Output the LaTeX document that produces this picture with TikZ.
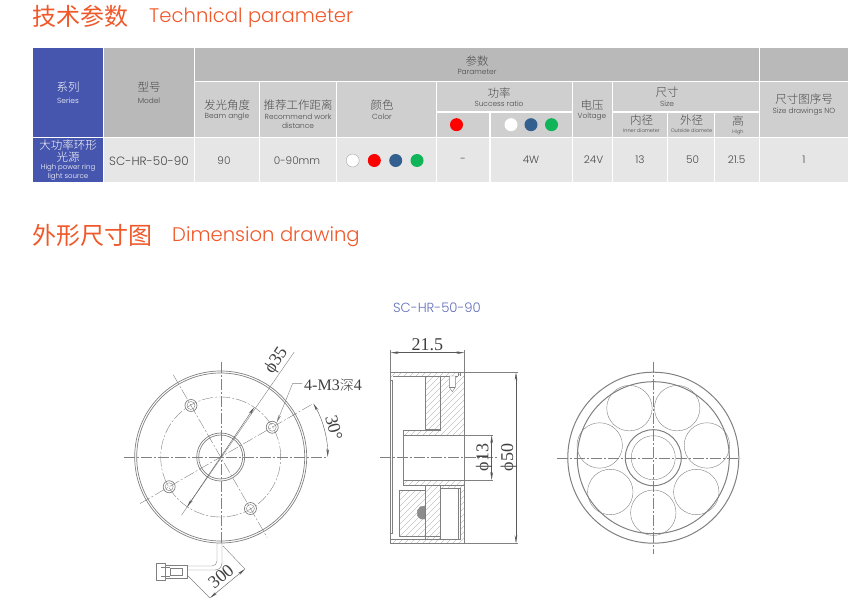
\documentclass[tikz,border=0pt]{standalone}
\usepackage{fontspec}
\usepackage{tikz}
\usetikzlibrary{arrows.meta}
\setmainfont{Poppins Light}
\newfontfamily\cjk{Noto Sans CJK SC Light}
\newfontfamily\cjkreg{Noto Sans CJK SC}
\newfontfamily\dimfont{Liberation Serif}
\definecolor{titleorange}{HTML}{F0582A}
\definecolor{seriesblue}{HTML}{4655AD}
\definecolor{headdark}{HTML}{B9B9B9}
\definecolor{headmid}{HTML}{CFCFCF}
\definecolor{rowlight}{HTML}{E6E6E6}
\definecolor{celltext}{HTML}{4A4A4A}
\definecolor{drawline}{HTML}{808080}
\definecolor{dotblue}{HTML}{33608F}
\definecolor{dotgreen}{HTML}{10B459}
\tikzset{
  zh/.style={font=\cjk\fontsize{11.5}{11.5}\selectfont, text=celltext, inner sep=0pt},
  en/.style={font=\fontsize{7.4}{9.2}\selectfont, text=celltext, inner sep=0pt, align=center},
  entiny/.style={font=\fontsize{5}{6}\selectfont, text=celltext, inner sep=0pt},
  val/.style={font=\fontsize{10.5}{11}\selectfont, text=celltext, inner sep=0pt},
  titlezh/.style={font=\cjkreg\fontsize{24}{24}\selectfont, text=titleorange, inner sep=0pt, anchor=west},
  titleen/.style={font=\fontsize{19.6}{22}\selectfont, text=titleorange, inner sep=0pt, anchor=west},
  colordot/.style={circle, minimum size=13pt, inner sep=0pt},
  thin line/.style={draw=drawline, line width=.4pt},
  part line/.style={draw=drawline, line width=.7pt},
  hatch line/.style={draw=drawline!80, line width=.3pt},
  center line/.style={draw=drawline, line width=.4pt, dash pattern=on 11pt off 2pt on 2pt off 2pt},
  dim line/.style={draw=black!65, line width=.4pt, {Stealth[length=8pt,width=2.6pt]}-{Stealth[length=8pt,width=2.6pt]}},
  dim text/.style={font=\dimfont\fontsize{18}{18}\selectfont, text=black!75, inner sep=0pt},
}
% hatched region: #1 is the outline
\newcommand{\hatcharea}[1]{%
    \begin{scope}
        \clip #1;
        \foreach \k in {0,...,54}
            \draw[hatch line] (-640+\k*18,700) -- (60+\k*18,0);
    \end{scope}}

\begin{document}
\begin{tikzpicture}[x=1pt,y=-1pt]
    \useasboundingbox (0,0) rectangle (864,609);
    % titles
    \node[titlezh] (title1zh) at (32,16) {技术参数};
    \node[titleen] (title1en) at (149,18) {Technical parameter};
    \node[titlezh] (title2zh) at (32,235) {外形尺寸图};
    \node[titleen] (title2en) at (172,237) {Dimension drawing};

    % table cells
    \foreach \xa/\ya/\xb/\yb in {33/48/103/137, 33/138/103/182}
        \fill[seriesblue] (\xa,\ya) rectangle (\xb,\yb);
    \foreach \xa/\ya/\xb/\yb in {104/48/194/137, 195/48/759/81, 760/48/848/81}
        \fill[headdark] (\xa,\ya) rectangle (\xb,\yb);
    \foreach \xa/\ya/\xb/\yb in {195/82/259/137, 260/82/336/137, 337/82/436/137, 437/82/572/111,
        437/113/489/137, 491/113/572/137, 573/82/612/137, 613/82/759/111, 613/113/667/137,
        668/113/714/137, 715/113/759/137, 760/82/848/137}
        \fill[headmid] (\xa,\ya) rectangle (\xb,\yb);
    \foreach \xa/\xb in {104/194, 195/259, 260/336, 337/436, 437/489, 491/572, 573/612,
        613/667, 668/714, 715/759, 760/848}
        \fill[rowlight] (\xa,138) rectangle (\xb,182);

    % header texts
    \node[zh, text=white] (series) at (68,87) {系列};
    \node[en, text=white] (seriesen) at (68,101) {Series};
    \node[zh] (model) at (149,87.5) {型号};
    \node[en] (modelen) at (149,101) {Model};
    \node[zh] (param) at (477,61) {参数};
    \node[en] (paramen) at (477,71.7) {Parameter};
    \node[zh] (beam) at (227,105.5) {发光角度};
    \node[en] (beamen) at (227,117) {Beam angle};
    \node[zh] (work) at (298,105) {推荐工作距离};
    \node[en] (worken) at (298,121.5) {Recommend work\\distance};
    \node[zh] (color) at (382,105) {颜色};
    \node[en] (coloren) at (382,117) {Color};
    \node[zh] (power) at (499,93) {功率};
    \node[en] (poweren) at (499,104) {Success ratio};
    \node[zh] (volt) at (592,105) {电压};
    \node[en] (volten) at (592,117) {Voltage};
    \node[zh] (size) at (667,92.5) {尺寸};
    \node[en] (sizeen) at (667,104) {Size};
    \node[zh] (inner) at (641.5,120) {内径};
    \node[entiny] (inneren) at (641.5,131) {Inner diameter};
    \node[zh] (outer) at (691.5,120) {外径};
    \node[entiny] (outeren) at (691.5,131) {Outside diamete};
    \node[zh] (high) at (738,121) {高};
    \node[entiny] (highen) at (738,132) {High};
    \node[zh] (drawno) at (804,99) {尺寸图序号};
    \node[en] (drawnoen) at (804,112) {Size drawings NO};

    % header dots
    \node[colordot, fill=red] (dotr1) at (456.5,124.7) {};
    \node[colordot, fill=white] (dotw1) at (511,124.7) {};
    \node[colordot, fill=dotblue] (dotb1) at (531,124.7) {};
    \node[colordot, fill=dotgreen] (dotg1) at (551.5,124.7) {};

    % data row
    \node[zh, text=white] (lamp1) at (68,145) {大功率环形};
    \node[zh, text=white] (lamp2) at (68,157) {光源};
    \node[en, text=white, font=\fontsize{7}{9}\selectfont] (lampen) at (68,172) {High power ring\\light source};
    \node[val, font=\fontsize{12}{12}\selectfont] (v1) at (149,161) {SC-HR-50-90};
    \node[val] (v2) at (224,161) {90};
    \node[val] (v3) at (297,161) {0-90mm};
    \node[colordot, fill=white, draw=black!35, line width=.4pt] (dotw2) at (352.7,160.5) {};
    \node[colordot, fill=red] (dotr2) at (374.3,160.5) {};
    \node[colordot, fill=dotblue] (dotb2) at (395.7,160.5) {};
    \node[colordot, fill=dotgreen] (dotg2) at (417,160.5) {};
    \node[val] (v4) at (463,160) {-};
    \node[val] (v5) at (531,160) {4W};
    \node[val] (v6) at (593.5,160) {24V};
    \node[val] (v7) at (640,160) {13};
    \node[val] (v8) at (692.5,160) {50};
    \node[val] (v9) at (736.5,160) {21.5};
    \node[val] (v10) at (804,160) {1};

    \node[font=\fontsize{13.2}{13.2}\selectfont, text=seriesblue!85, inner sep=0pt] (drawname) at (437,308) {SC-HR-50-90};

    % front view
    \begin{scope}[shift={(220.7,457)},yscale=-1]
        \coordinate (c) at (0,0);
        \draw[part line] (c) circle (86);
        \draw[part line] (c) circle (84);
        \draw[part line] (c) circle (24);
        \draw[part line] (c) circle (22);
        \draw[center line] (c) circle (60);
        \foreach \name/\ang in {holeA/30, holeB/120, holeC/210, holeD/300}{
            \node[circle, part line, minimum size=12pt, inner sep=0pt] (\name) at (\ang:59.5) {};
            \draw[thin line] (\ang:59.5) circle (4);
        }
        \draw[center line] (-97,0) -- (107,0);
        \draw[center line] (0,95) -- (0,-86);
        \draw[center line] (210:93) -- (30:106);
        \draw[center line] (120:95) -- (300:93);
        % diameter 35
        \coordinate (d35a) at (56:60);
        \coordinate (d35b) at (236:60);
        \coordinate (d35c) at (55:128);
        \coordinate (d35d) at (236:70);
        \draw[thin line] (d35d) -- (d35c);
        \draw[dim line] (d35a) -- (d35b);
        \node[dim text, rotate=56] (d35) at (56,96) {ϕ35};
        % angle
        \coordinate (ang1) at (30:107);
        \coordinate (ang0) at (0:107);
        \draw[dim line] (ang1) arc[start angle=30,end angle=0,radius=107];
        \node[dim text, rotate=-75] (ang) at (14.5:117) {30°};
    \end{scope}

    % leader
    \coordinate (lead1) at (292.7,383.3);
    \coordinate (lead2) at (302,383.3);
    \draw[thin line, {Stealth[length=8pt,width=2.6pt]}-] (holeA.north east) -- (lead1) -- (lead2);
    \node[dim text, anchor=west, font=\dimfont\fontsize{16}{16}\selectfont] (leadtext) at (304,385.5) {4-M3{\cjk\fontsize{14}{14}\selectfont 深}4};

    % cable and plug
    \coordinate (cabA) at (217,543);
    \coordinate (cabB) at (222,543);
    \draw[thin line, rounded corners=5pt] (cabA) -- (217,566) -- (187,566);
    \draw[thin line, rounded corners=7pt] (cabB) -- (222,570) -- (187,570);
    \draw[part line, fill=white] (156,563) rectangle (165,580);
    \draw[part line, fill=white] (165,565) rectangle (187,578);
    \draw[thin line] (170,568) rectangle (182,575);
    \draw[thin line] (161,567) -- (170,567);
    \draw[thin line] (161,576) -- (170,576);
    % length 300
    \coordinate (lenA) at (223,546);
    \coordinate (lenB) at (245,569);
    \coordinate (lenC) at (187,575);
    \coordinate (lenD) at (210,598);
    \draw[thin line] (lenA) -- (lenB);
    \draw[thin line] (lenC) -- (lenD);
    \draw[dim line] (lenD) -- (lenB);
    \node[dim text, rotate=40] (len) at (221,576.5) {300};

    % section
    \begin{scope}[shift={(370,330)},scale=1/3]
        \hatcharea{(62,127) -- (283,127) -- (283,138) -- (62,138) -- cycle}
        \hatcharea{(165,138) -- (283,138) -- (283,316) -- (100,316) -- (100,300) -- (212,300) -- (212,298) -- (165,298) -- cycle}
        \hatcharea{(100,450) -- (283,450) -- (283,640) -- (62,640) -- (62,628) -- (272,628) -- (272,475) -- (212,475) -- (212,628) -- (165,628) -- (165,466) -- (100,466) -- cycle}
        \hatcharea{(88,480) -- (165,480) -- (165,618) -- (88,618) -- cycle}
        \draw[part line] (62,127) rectangle (283,640);
        \draw[thin line] (70,138) -- (265,138);
        \draw[thin line] (272,127) -- (272,138);
        \draw[thin line] (265,127) -- (265,138);
        \draw[part line] (68,150) -- (68,610);
        \draw[thin line] (62,150) -- (68,150);
        \draw[thin line] (62,610) -- (68,610);
        \draw[thin line] (165,138) -- (165,298) -- (212,298);
        \draw[thin line] (212,138) -- (212,300) -- (100,300) -- (100,466) -- (283,466);
        \draw[thin line] (100,316) -- (283,316);
        \draw[thin line] (100,450) -- (283,450);
        \draw[thin line] (165,466) -- (165,628);
        \draw[thin line] (212,466) -- (212,628);
        \draw[thin line] (88,480) rectangle (165,618);
        \draw[thin line] (62,628) -- (272,628) -- (272,475) -- (212,475);
        \draw[thin line] (265,475) -- (265,628);
        \draw[thin line] (212,618) -- (165,618);
        \draw[thin line, fill=white] (238,138) -- (256,138) -- (256,172) -- (247,185) -- (238,172) -- cycle;
        \draw[thin line] (238,172) -- (256,172);
        \draw[thin line, fill=black!45] (165,530) -- (152,530) -- (143,540) -- (143,558) -- (152,567) -- (165,567) -- cycle;
        \draw[center line] (30,382) -- (380,382);
        % dimensions
        \coordinate (d215a) at (62,68);
        \coordinate (d215b) at (283,68);
        \draw[thin line] (62,60) -- (62,127);
        \draw[thin line] (283,60) -- (283,127);
        \draw[dim line] (d215a) -- (d215b);
        \node[dim text] (d215) at (172,44) {21.5};
        \coordinate (d50a) at (438,127);
        \coordinate (d50b) at (438,640);
        \draw[thin line] (283,127) -- (443,127);
        \draw[thin line] (283,640) -- (443,640);
        \draw[dim line] (d50a) -- (d50b);
        \node[dim text, rotate=90] (d50) at (416,382) {ϕ50};
        \coordinate (d13a) at (365,316);
        \coordinate (d13b) at (365,450);
        \draw[thin line] (283,316) -- (370,316);
        \draw[thin line] (283,450) -- (370,450);
        \draw[dim line] (d13a) -- (d13b);
        \node[dim text, rotate=90] (d13) at (342,382) {ϕ13};
    \end{scope}

    % back view
    \begin{scope}[shift={(653.3,457.7)},yscale=-1]
        \coordinate (r) at (0,0);
        \draw[part line, line width=1pt] (r) circle (85.5);
        \draw[part line, line width=1pt] (r) circle (76);
        \draw[part line, line width=1pt] (r) circle (28);
        \draw[thin line] (r) circle (22);
        \foreach \k in {0,...,6}
            \draw[thin line] (-90+\k*51.43:55) circle (22.7);
        \draw[center line] (-96,0) -- (87,0);
        \draw[center line] (0,96) -- (0,-96);
    \end{scope}
\end{tikzpicture}
\end{document}
